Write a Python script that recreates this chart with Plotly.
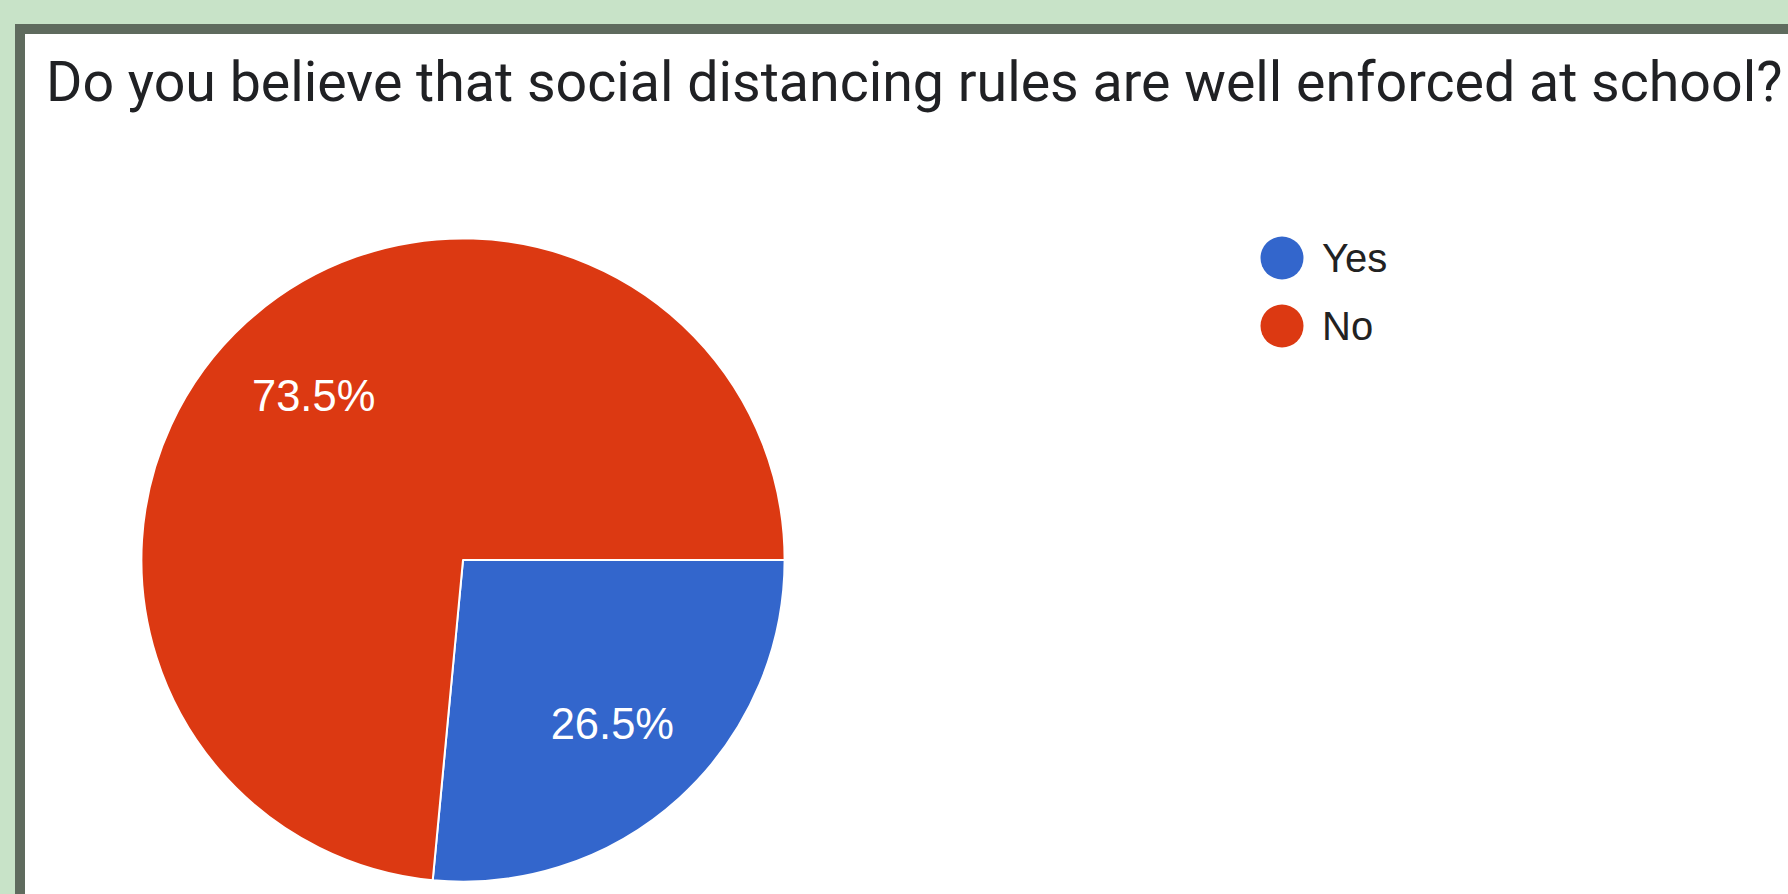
import plotly.graph_objects as go

# ---- data ----
categories = ["Yes", "No"]
values = [26.5, 73.5]
colors = ["#3366CC", "#DC3912"]
title_text = "Do you believe that social distancing rules are well enforced at school?"

W, H = 1788, 894
BG = "#C8E3C8"
FRAME = "#5F6B5E"

pie_domain = dict(x=[141.4 / W, 784.6 / W], y=[1 - 881.6 / H, 1 - 238.4 / H])

fig = go.Figure()
# filled slices
fig.add_trace(go.Pie(
    labels=categories,
    values=values,
    sort=False,
    direction="clockwise",
    rotation=90,
    marker=dict(colors=colors, line=dict(color="white", width=2)),
    textinfo="none",
    showlegend=False,
    hoverinfo="label+percent",
    domain=pie_domain,
))
# transparent ring carrying the percentage labels (places them further out)
fig.add_trace(go.Pie(
    labels=categories,
    values=values,
    sort=False,
    direction="clockwise",
    rotation=90,
    hole=0.38,
    marker=dict(colors=["rgba(0,0,0,0)"] * len(categories), line=dict(width=0)),
    texttemplate="%{percent:.1%}",
    textposition="inside",
    insidetextorientation="horizontal",
    textfont=dict(family="Liberation Sans, Arial", size=43.5, color="white"),
    showlegend=False,
    hoverinfo="skip",
    domain=pie_domain,
))

shapes = [
    # white panel with dark frame
    dict(type="rect", xref="paper", yref="paper", layer="below",
         x0=20 / W, x1=1.05, y0=-0.05, y1=1 - 29 / H,
         fillcolor="white", line=dict(color=FRAME, width=10)),
]
annotations = [
    dict(text=title_text, xref="paper", yref="paper", x=44 / W, y=1 - 82 / H,
         xanchor="left", yanchor="middle", showarrow=False,
         font=dict(family="Roboto", size=55.5, color="#202124")),
]

# custom legend (circle markers), built from the category list
leg_x, leg_y0, leg_dy, leg_r = 1282, 258, 68, 21.5
for i, (cat, col) in enumerate(zip(categories, colors)):
    cy = leg_y0 + i * leg_dy
    shapes.append(dict(type="circle", xref="paper", yref="paper",
                       x0=(leg_x - leg_r) / W, x1=(leg_x + leg_r) / W,
                       y0=1 - (cy + leg_r) / H, y1=1 - (cy - leg_r) / H,
                       fillcolor=col, line=dict(width=0)))
    annotations.append(dict(text=cat, xref="paper", yref="paper",
                            x=1320 / W, y=1 - cy / H, xanchor="left", yanchor="middle",
                            showarrow=False,
                            font=dict(family="Liberation Sans, Arial", size=40, color="#222222")))

fig.update_layout(
    width=W, height=H,
    margin=dict(l=0, r=0, t=0, b=0),
    paper_bgcolor=BG,
    plot_bgcolor=BG,
    shapes=shapes,
    annotations=annotations,
    showlegend=False,
)

fig.write_html(
    "out.html",
    config={"displayModeBar": False},
    post_script="document.body.style.margin='0';document.body.style.background='%s';" % BG,
)
